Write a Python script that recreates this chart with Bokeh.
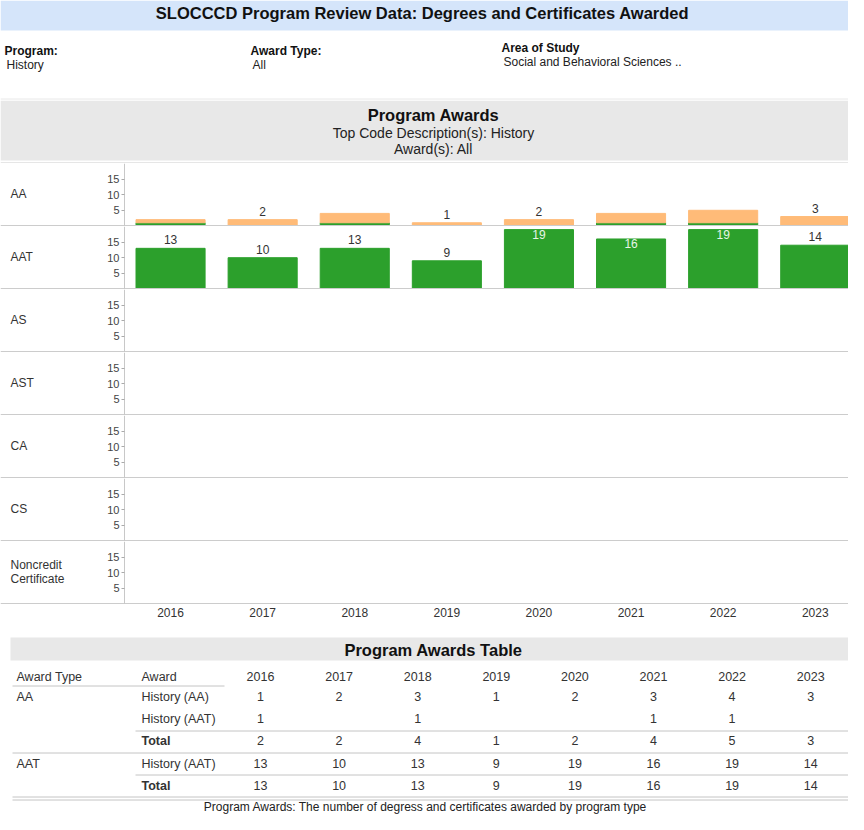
from bokeh.plotting import figure
from bokeh.layouts import column
from bokeh.models import Range1d, Label, FixedTicker, ColumnDataSource
from bokeh.core.properties import value
from bokeh.embed import file_html
from bokeh.resources import INLINE

# ---------------- data ----------------
years = [2016, 2017, 2018, 2019, 2020, 2021, 2022, 2023]
aa_history_aa = [1, 2, 3, 1, 2, 3, 4, 3]          # Award type AA, award History (AA)
aa_history_aat = [1, 0, 1, 0, 0, 1, 1, 0]         # Award type AA, award History (AAT)
aat_history_aat = [13, 10, 13, 9, 19, 16, 19, 14]  # Award type AAT, award History (AAT)
award_types = ["AA", "AAT", "AS", "AST", "CA", "CS", "Noncredit Certificate"]
y_ticks = [5, 10, 15]

FONT = "Liberation Sans"
W = 848
GREEN = "#2ca02c"
ORANGE = "#ffbb78"
TXT = "#333333"
LINE = "#cccccc"


def pix_fig(h):
    p = figure(width=W, height=h, x_range=Range1d(0, W), y_range=Range1d(h, 0),
               x_axis_location=None, y_axis_location=None, output_backend="svg",
               toolbar_location=None, min_border=0)
    p.outline_line_color = None
    p.grid.visible = False
    return p


def txt(p, x, y, t, size="12px", align="left", bold=False, color=TXT):
    p.text(x=x, y=y, text=t, text_font=value(FONT), text_font_size=size,
           text_align=align, text_baseline="middle", text_color=color,
           text_font_style="bold" if bold else "normal")


# ---------------- header ----------------
top = pix_fig(100)
top.quad(left=0, right=W, top=0, bottom=30, fill_color="#d5e5fa", line_color=None)
txt(top, [422], [12], ["SLOCCCD Program Review Data: Degrees and Certificates Awarded"],
    size="16.5px", align="center", bold=True, color="#111111")
txt(top, [4, 250], [50, 50], ["Program:", "Award Type:"], bold=True, color="#111111")
txt(top, [6, 252], [64, 64], ["History", "All"], color="#222222")
txt(top, [501], [47], ["Area of Study"], bold=True, color="#111111")
txt(top, [503], [61], ["Social and Behavioral Sciences .."], color="#222222")
top.segment(x0=0, y0=98.5, x1=W, y1=98.5, line_color="#e8e8e8", line_width=1)

# ---------------- section title ----------------
sec = pix_fig(63)
sec.quad(left=0, right=W, top=0, bottom=60, fill_color="#e8e8e8", line_color=None)
txt(sec, [433], [14], ["Program Awards"], size="16.5px", align="center", bold=True, color="#111111")
txt(sec, [433], [32], ["Top Code Description(s): History"], size="14px", align="center", color="#222222")
txt(sec, [433], [48], ["Award(s): All"], size="14px", align="center", color="#222222")
sec.segment(x0=0, y0=62.5, x1=W, y1=62.5, line_color=LINE, line_width=1)

# ---------------- chart rows ----------------
PX_PER_YEAR = 92.1
x_left = 2015.5 - 124 / PX_PER_YEAR
x_rng = Range1d(x_left, x_left + W / PX_PER_YEAR)
rows = [top, sec]

aa_total = [a + b for a, b in zip(aa_history_aa, aa_history_aat)]
src_aa = ColumnDataSource(dict(year=years, aat=aa_history_aat, aa=aa_history_aa))

for t in award_types:
    p = figure(width=W, height=63, x_range=x_rng, y_range=Range1d(-0.2, 20),
               output_backend="svg", toolbar_location=None, min_border=0)
    p.outline_line_color = None
    p.grid.visible = False

    ax = p.yaxis[0]
    ax.fixed_location = 2015.5
    ax.ticker = FixedTicker(ticks=y_ticks)
    ax.major_label_text_font = FONT
    ax.major_label_text_font_size = "11px"
    ax.major_label_text_color = "#444444"
    ax.major_label_standoff = 2
    ax.major_tick_out = 3
    ax.major_tick_in = 0
    ax.minor_tick_out = 0
    ax.minor_tick_in = 0
    ax.major_tick_line_color = "#aaaaaa"
    ax.axis_line_color = "#c8c8c8"

    bx = p.xaxis[0]
    bx.fixed_location = 0
    bx.ticker = FixedTicker(ticks=[])
    bx.major_label_text_color = None
    bx.major_tick_out = 0
    bx.major_tick_in = 0
    bx.minor_tick_out = 0
    bx.minor_tick_in = 0
    bx.axis_line_color = LINE

    if t == "AA":
        p.vbar_stack(["aat", "aa"], x="year", width=0.75, color=[GREEN, ORANGE], source=src_aa)
        lx = [y for y, a in zip(years, aa_history_aat) if a == 0]
        ly = [v for v, a in zip(aa_total, aa_history_aat) if a == 0]
        p.text(x=lx, y=ly, text=[str(v) for v in ly], text_font=value(FONT),
               text_font_size="12px", text_align="center", text_baseline="bottom",
               y_offset=-4, text_color=TXT)
    elif t == "AAT":
        p.vbar(x=years, top=aat_history_aat, width=0.75, color=GREEN)
        ox = [y for y, v in zip(years, aat_history_aat) if v < 15]
        ov = [v for v in aat_history_aat if v < 15]
        ix = [y for y, v in zip(years, aat_history_aat) if v >= 15]
        iv = [v for v in aat_history_aat if v >= 15]
        p.text(x=ox, y=ov, text=[str(v) for v in ov], text_font=value(FONT),
               text_font_size="12px", text_align="center", text_baseline="bottom",
               y_offset=-4, text_color=TXT)
        p.text(x=ix, y=iv, text=[str(v) for v in iv], text_font=value(FONT),
               text_font_size="12px", text_align="center", text_baseline="top",
               y_offset=0, text_color="#e8f5e8")

    if t == "Noncredit Certificate":
        for yy, part in zip([40, 26], ["Noncredit", "Certificate"]):
            p.add_layout(Label(x=10, y=yy, x_units="screen", y_units="screen", text=part,
                               text_font=FONT, text_font_size="12px", text_color=TXT,
                               text_baseline="middle"))
    else:
        p.add_layout(Label(x=10, y=33, x_units="screen", y_units="screen", text=t,
                           text_font=FONT, text_font_size="12px", text_color=TXT,
                           text_baseline="middle"))
    rows.append(p)

# x axis strip
pa = figure(width=W, height=22, x_range=x_rng, y_range=Range1d(0, 1),
            y_axis_location=None, output_backend="svg", toolbar_location=None, min_border=0)
pa.outline_line_color = None
pa.grid.visible = False
xa = pa.xaxis[0]
xa.fixed_location = 1
xa.ticker = FixedTicker(ticks=years)
xa.major_label_overrides = {y: str(y) for y in years}
xa.major_label_text_font = FONT
xa.major_label_text_font_size = "12px"
xa.major_label_text_color = TXT
xa.major_label_standoff = 3
xa.major_tick_out = 0
xa.major_tick_in = 0
xa.minor_tick_out = 0
xa.minor_tick_in = 0
xa.axis_line_color = None
rows.append(pa)

# ---------------- table ----------------
tb = pix_fig(188)
tb.quad(left=10, right=W, top=11, bottom=34, fill_color="#e8e8e8", line_color=None)
txt(tb, [433], [23], ["Program Awards Table"], size="16.5px", align="center", bold=True, color="#111111")

col_x = [260 + i * 78.6 for i in range(len(years))]
txt(tb, [16, 141], [50, 50], ["Award Type", "Award"], size="12.5px")
txt(tb, col_x, [50] * len(years), [str(y) for y in years], size="12.5px", align="center")

row_y = [70, 92, 114, 137, 159]
txt(tb, [16, 16], [row_y[0], row_y[3]], ["AA", "AAT"], size="12.5px")
txt(tb, [141, 141, 141], [row_y[0], row_y[1], row_y[3]],
    ["History (AA)", "History (AAT)", "History (AAT)"], size="12.5px")
txt(tb, [141, 141], [row_y[2], row_y[4]], ["Total", "Total"], size="12.5px", bold=True)

table_rows = [
    [str(v) for v in aa_history_aa],
    [str(v) if v else "" for v in aa_history_aat],
    [str(v) for v in aa_total],
    [str(v) for v in aat_history_aat],
    [str(v) for v in aat_history_aat],
]
for yy, vals in zip(row_y, table_rows):
    txt(tb, col_x, [yy] * len(vals), vals, size="12.5px", align="center")

tb.segment(x0=[12, 135, 12, 135, 12, 12], x1=[224, W, W, W, W, W],
           y0=[59.5, 104.5, 126.5, 148.5, 170.5, 173.5], y1=[59.5, 104.5, 126.5, 148.5, 170.5, 173.5],
           line_color="#c4c4c4", line_width=1)
txt(tb, [425], [180], ["Program Awards: The number of degress and certificates awarded by program type"],
    size="12px", align="center", color="#222222")
rows.append(tb)

layout = column(*rows, spacing=0)
open("out.html", "w").write(file_html(layout, INLINE))
